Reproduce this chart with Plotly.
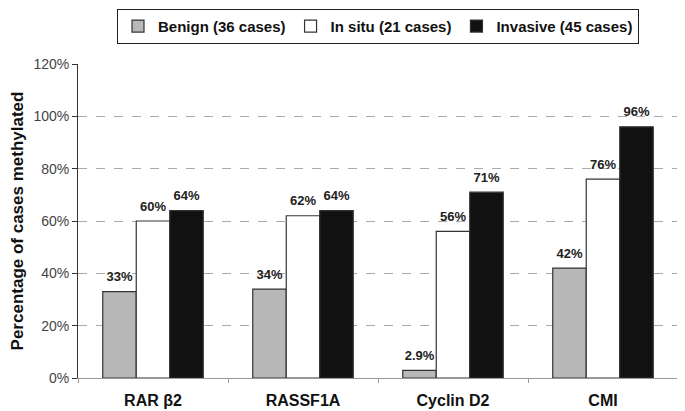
import plotly.graph_objects as go

categories = ["RAR β2", "RASSF1A", "Cyclin D2", "CMI"]
benign = [0.33, 0.34, 0.029, 0.42]
in_situ = [0.60, 0.62, 0.56, 0.76]
invasive = [0.64, 0.64, 0.71, 0.96]
benign_labels = ["33%", "34%", "2.9%", "42%"]
in_situ_labels = ["60%", "62%", "56%", "76%"]
invasive_labels = ["64%", "64%", "71%", "96%"]

FONT = "Liberation Sans, Arial, sans-serif"

fig = go.Figure()
series = [
    ("Benign (36 cases)", benign, benign_labels, "#b8b8b8"),
    ("In situ (21 cases)", in_situ, in_situ_labels, "#ffffff"),
    ("Invasive (45 cases)", invasive, invasive_labels, "#111111"),
]
for i, (name, vals, labels, color) in enumerate(series):
    fig.add_trace(go.Bar(
        name=name, x=categories, y=vals, offsetgroup=str(i),
        marker=dict(color=color, line=dict(color="#333333", width=1.2)),
        hoverinfo="skip",
    ))
for i, (name, vals, labels, color) in enumerate(series):
    fig.add_trace(go.Scatter(
        x=categories, y=vals, text=labels, offsetgroup=str(i),
        mode="markers+text", textposition="top center", cliponaxis=False,
        marker=dict(size=10, opacity=0),
        textfont=dict(family=FONT, size=13, color="#222222", weight="bold"),
        showlegend=False, hoverinfo="skip",
    ))

# the page body adds an 8px offset, so the figure is sized to the remaining area
fig.update_layout(
    width=677, height=403,
    margin=dict(l=70, r=7, t=56, b=33, autoexpand=False),
    paper_bgcolor="white", plot_bgcolor="white",
    barmode="group", bargap=0.33, bargroupgap=0,
    scattermode="group", scattergap=0.33,
    font=dict(family=FONT, color="#222222"),
    showlegend=True,
    legend=dict(
        orientation="h", xref="paper", yref="container",
        x=0.5, xanchor="center", y=0.998, yanchor="top",
        bordercolor="#222222", borderwidth=1,
        font=dict(family=FONT, size=15, color="#111111", weight="bold"),
        itemwidth=30, tracegroupgap=0,
    ),
    xaxis=dict(
        automargin=False,
        showline=True, linecolor="#999999", linewidth=1,
        ticks="outside", tickson="boundaries", ticklen=4, tickcolor="#999999",
        tickfont=dict(family=FONT, size=16, color="#111111", weight="bold"),
        ticklabelstandoff=8,
        showgrid=False,
    ),
    yaxis=dict(
        automargin=False,
        range=[0, 1.2], dtick=0.2, tickformat=".0%",
        showline=True, linecolor="#333333", linewidth=1,
        ticks="outside", ticklen=5, tickcolor="#333333",
        tickfont=dict(family=FONT, size=14, color="#444444"),
        showgrid=True, gridcolor="#aaaaaa", griddash="dash", gridwidth=1,
        zeroline=True, zerolinecolor="#999999", zerolinewidth=1,
        title=dict(text="Percentage of cases methylated",
                   font=dict(family=FONT, size=17, color="#111111", weight="bold"),
                   standoff=11),
    ),
)

fig.write_html("out.html")
